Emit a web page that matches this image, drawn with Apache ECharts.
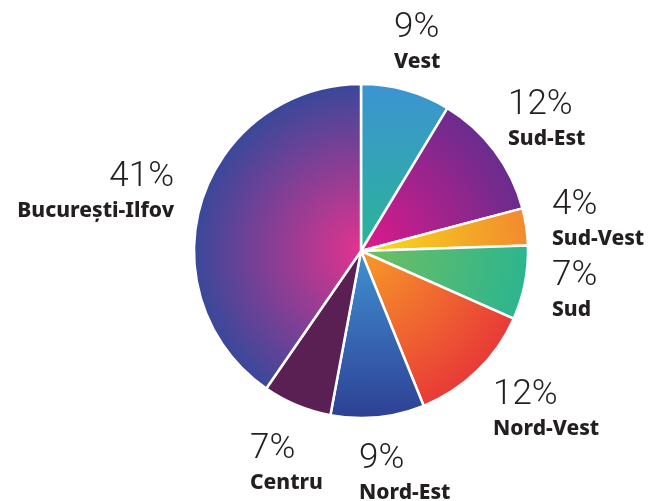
<!DOCTYPE html>
<html>
<head>
<meta charset="utf-8">
<script src="https://cdn.jsdelivr.net/npm/echarts@6/dist/echarts.min.js"></script>
<style>
  html, body { margin: 0; padding: 0; background: #fff; }
  #chart { width: 653px; height: 501px; }
</style>
</head>
<body>
<div id="chart"></div>
<script>
// regions, clockwise from 12 o'clock
var regions = ['Vest', 'Sud-Est', 'Sud-Vest', 'Sud', 'Nord-Vest', 'Nord-Est', 'Centru', 'București-Ilfov']
var shares = [8.7, 12.3, 3.6, 7.2, 12.3, 9.1, 6.7, 40.6]

// label anchor per region (left/right edge x, top of label block y)
var labelAnchor = [
  [394, 7, 'left'],
  [508, 84, 'left'],
  [552, 184, 'left'],
  [552, 255, 'left'],
  [493, 374, 'left'],
  [359, 438, 'left'],
  [250, 428, 'left'],
  [174, 156, 'right']
]

var cx = 361, cy = 251, R = 167

function radial(c0, c1) {
  return {
    type: 'radial', x: cx, y: cy, r: R, global: true,
    colorStops: [{ offset: 0, color: c0 }, { offset: 1, color: c1 }]
  }
}
function linear(x, y, x2, y2, c0, c1) {
  return {
    type: 'linear', x: x, y: y, x2: x2, y2: y2,
    colorStops: [{ offset: 0, color: c0 }, { offset: 1, color: c1 }]
  }
}

var fills = [
  linear(0, 0, 0, 1, '#3c93d2', '#2ab597'),
  radial('#e0198a', '#6a2c8e'),
  radial('#f9e01a', '#f28a2e'),
  radial('#72bf5e', '#2cb58f'),
  radial('#f89a28', '#e83a37'),
  linear(0, 0, 0, 1, '#3f92d2', '#2e3f94'),
  '#5a2054',
  radial('#e2338e', '#39489a')
]

var chart = echarts.init(document.getElementById('chart'))
chart.setOption({
  animation: false,
  series: [{
    type: 'pie',
    center: [cx, cy],
    radius: [0, R],
    startAngle: 90,
    clockwise: true,
    avoidLabelOverlap: false,
    itemStyle: { borderColor: '#fff', borderWidth: 2.5 },
    labelLine: { show: false },
    label: {
      show: true,
      formatter: function (p) {
        return '{p|' + Math.round(p.value) + '%}\n{n|' + p.name + '}'
      },
      rich: {
        p: { fontFamily: 'Roboto, sans-serif', fontWeight: 300, fontSize: 35, lineHeight: 42, color: '#231f20' },
        n: { fontFamily: '"Noto Sans", sans-serif', fontWeight: 800, fontSize: 21, lineHeight: 26, color: '#231f20' }
      }
    },
    labelLayout: function (params) {
      var a = labelAnchor[params.dataIndex]
      return { x: a[0], y: a[1], align: a[2], verticalAlign: 'top' }
    },
    data: regions.map(function (name, i) {
      return { name: name, value: shares[i], itemStyle: { color: fills[i] } }
    })
  }]
})
</script>
</body>
</html>
